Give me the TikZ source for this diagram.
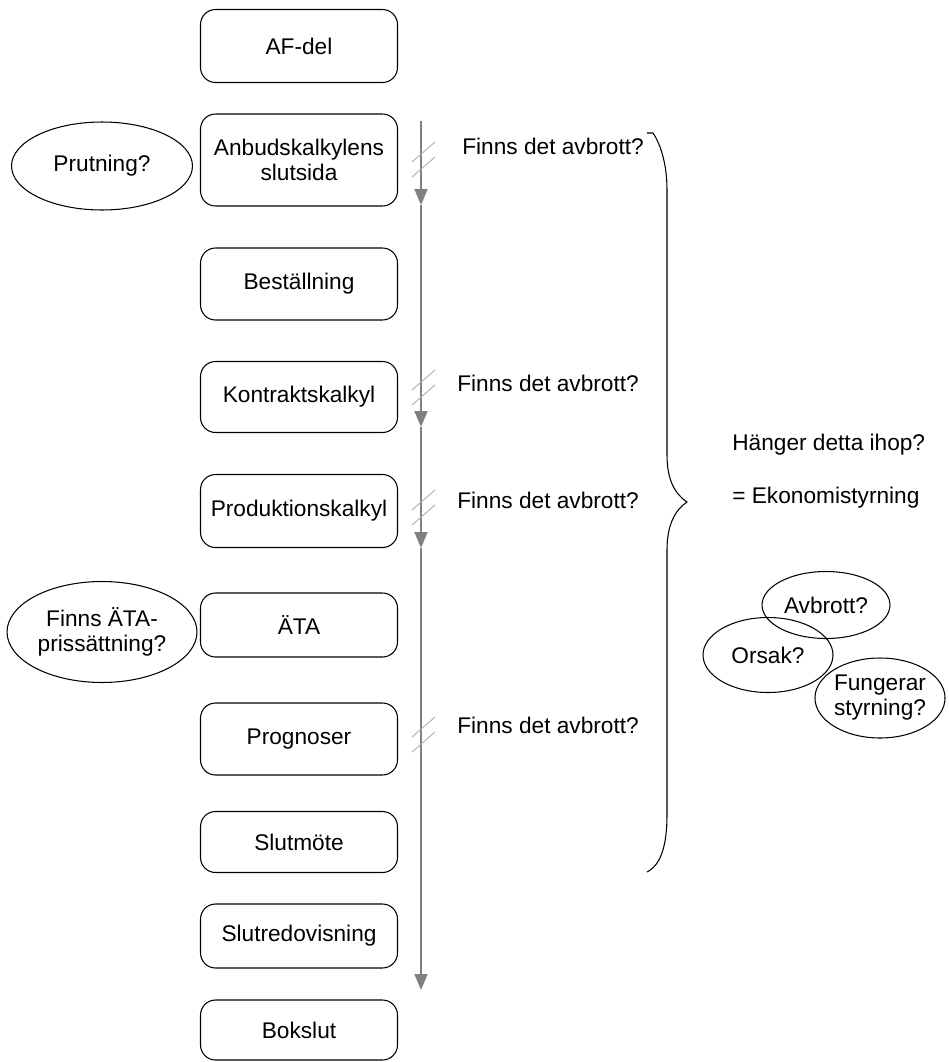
\documentclass[tikz,border=0pt]{standalone}
\usepackage{fontspec}
\setmainfont{Liberation Sans}
\usetikzlibrary{shapes.geometric,arrows.meta}
\tikzset{
  every node/.style={font=\fontsize{12.9}{14.2}\selectfont},
  stepbox/.style={draw, rounded corners=0.3cm, line width=0.6pt, minimum width=3.94cm, inner sep=0pt, align=center},
  askbubble/.style={draw, ellipse, line width=0.6pt, inner sep=0pt, align=center},
  timeline/.style={draw=gray, line width=1.1pt, -{Triangle[width=0.26cm,length=0.32cm]}},
  breakslash/.style={draw=gray!65, line width=0.5pt},
  sidetext/.style={anchor=west, inner sep=0pt}
}
\newcommand{\avbrottmark}[1]{
  % two slashes across the time line
  \draw[breakslash] (412,#1+2) -- (435,#1-18);
  \draw[breakslash] (412,#1+17) -- (435,#1-3);
}

\begin{document}
\begin{tikzpicture}[x=0.02cm,y=-0.02cm]
\useasboundingbox (0,0) rectangle (948,1062);

% steps
\node[stepbox, minimum height=1.46cm] (afdel) at (299,46) {AF-del};
\node[stepbox, minimum height=1.84cm] (anbud) at (299,160) {Anbudskalkylens\\slutsida};
\node[stepbox, minimum height=1.44cm] (best) at (299,284) {Beställning};
\node[stepbox, minimum height=1.42cm] (kontrakt) at (299,397) {Kontraktskalkyl};
\node[stepbox, minimum height=1.46cm] (prod) at (299,511) {Produktionskalkyl};
\node[stepbox, minimum height=1.28cm] (ata) at (299,625) {ÄTA};
\node[stepbox, minimum height=1.44cm] (prognos) at (299,739) {Prognoser};
\node[stepbox, minimum height=1.22cm] (slutmote) at (299,842) {Slutmöte};
\node[stepbox, minimum height=1.28cm] (slutred) at (299,936) {Slutredovisning};
\node[stepbox, minimum height=1.20cm] (bokslut) at (299,1030) {Bokslut};

% questions
\node[askbubble, minimum width=3.62cm, minimum height=1.76cm] (prutning) at (102,166) {Prutning?};
\node[askbubble, minimum width=3.8cm, minimum height=2.02cm] (ataprice) at (102,632) {Finns ÄTA-\\prissättning?};
\node[askbubble, minimum width=2.56cm, minimum height=1.34cm] (avbrott) at (826,605) {Avbrott?};
\node[askbubble, minimum width=2.6cm, minimum height=1.5cm] (orsak) at (768,655) {Orsak?};
\node[askbubble, minimum width=2.54cm, minimum height=1.6cm] (fungerar) at (880,698) {Fungerar\\styrning?};

% time line
\coordinate (tstart) at (421,121);
\coordinate (t1) at (421,205);
\coordinate (t2) at (421,427);
\coordinate (t3) at (421,548);
\coordinate (tend) at (421,990);
\draw[timeline] (tstart) -- (t1);
\draw[timeline] (t1) -- (t2);
\draw[timeline] (t2) -- (t3);
\draw[timeline] (t3) -- (tend);

\avbrottmark{160}
\avbrottmark{388}
\avbrottmark{508}
\avbrottmark{735}

\node[sidetext] (q1) at (462,146) {Finns det avbrott?};
\node[sidetext] (q2) at (457,383) {Finns det avbrott?};
\node[sidetext] (q3) at (457,500) {Finns det avbrott?};
\node[sidetext] (q4) at (457,725) {Finns det avbrott?};

% brace
\draw[line width=0.6pt] (647,133) -- (653,133) .. controls (661,145) and (667,165) .. (667,190)
  -- (667,455) .. controls (667,480) and (675,494) .. (687,502)
  .. controls (675,510) and (667,525) .. (667,550)
  -- (667,815) .. controls (667,845) and (661,865) .. (647,872);

\node[sidetext] (hanger) at (732,445) {Hänger detta ihop?};
\node[sidetext] (ekonomi) at (732,498) {= Ekonomistyrning};
\end{tikzpicture}
\end{document}
